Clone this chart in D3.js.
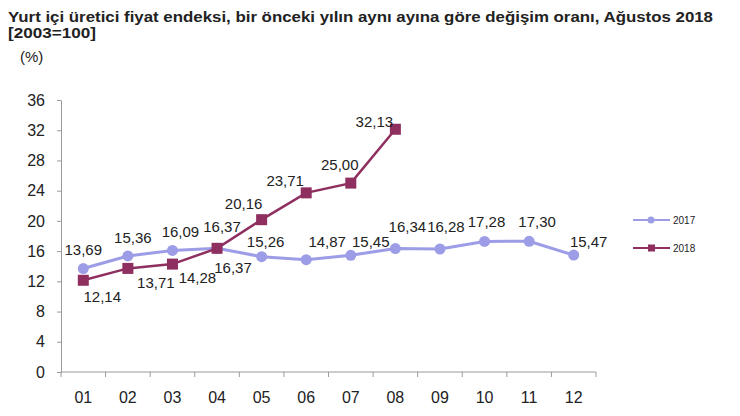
<!DOCTYPE html>
<html>
<head>
<meta charset="utf-8">
<script src="https://cdn.jsdelivr.net/npm/d3@7"></script>
<style>
  body { margin: 0; background: #fff; }
  svg { font-family: "Liberation Sans", Arial, sans-serif; }
  .axis path, .axis line { stroke: #9a9a9a; }
  .axis text { font-size: 16px; fill: #222; }
</style>
</head>
<body>
<svg id="chart" width="740" height="416"></svg>
<script>
var months = ["01", "02", "03", "04", "05", "06", "07", "08", "09", "10", "11", "12"]
var values2017 = [13.69, 15.36, 16.09, 16.37, 15.26, 14.87, 15.45, 16.34, 16.28, 17.28, 17.30, 15.47]
var values2018 = [12.14, 13.71, 14.28, 16.37, 20.16, 23.71, 25.00, 32.13]
var yTicks = [0, 4, 8, 12, 16, 20, 24, 28, 32, 36]

// label placement relative to each point (dx, dy of baseline)
var labelPos2017 = [[0, -14], [5, -13], [8, -13], [5, -16], [4, -10], [21, -13], [20, -8], [12, -17], [6, -17], [2, -14], [8, -14], [15, -8]]
var labelPos2018 = [[19, 22], [28, 20], [25, 19], [16, 25], [-18, -11], [-21, -7], [-11, -13], [-21, -2]]

var svg = d3.select("#chart")
var fmt = function(v) { return v.toFixed(2).replace(".", ",") }

// Title (the original is a bit wider than plain 15px bold)
svg.append("text").attr("x", 8).attr("y", 22)
    .style("font-weight", "bold").style("font-size", "15px").attr("fill", "#222")
    .attr("textLength", 705).attr("lengthAdjust", "spacingAndGlyphs")
    .text("Yurt içi üretici fiyat endeksi, bir önceki yılın aynı ayına göre değişim oranı, Ağustos 2018")
svg.append("text").attr("x", 8).attr("y", 38)
    .style("font-weight", "bold").style("font-size", "15px").attr("fill", "#222")
    .attr("textLength", 88).attr("lengthAdjust", "spacingAndGlyphs")
    .text("[2003=100]")
svg.append("text").attr("x", 20).attr("y", 62)
    .style("font-size", "15px").attr("fill", "#222")
    .text("(%)")

var margin = {left: 61, top: 100}
var width = 535, height = 272

var g = svg.append("g").attr("transform", "translate(" + margin.left + "," + margin.top + ")")

var x = d3.scaleBand().domain(months).range([0, width])
var y = d3.scaleLinear().domain([0, 36]).range([height, 0])
var cx = function(d, i) { return x(months[i]) + x.bandwidth() / 2 }

// Y axis
g.append("g")
    .attr("class", "axis axis--y")
    .call(d3.axisLeft(y).tickValues(yTicks).tickSize(4).tickSizeOuter(0).tickPadding(12))

// X axis, ticks at category boundaries
var xAxis = g.append("g")
    .attr("class", "axis axis--x")
    .attr("transform", "translate(0," + height + ")")
xAxis.append("line").attr("x1", 0).attr("x2", width).attr("stroke", "#9a9a9a")
xAxis.selectAll("line.tick")
    .data(d3.range(months.length + 1))
    .join("line")
    .attr("class", "tick")
    .attr("x1", function(i) { return i * x.step() })
    .attr("x2", function(i) { return i * x.step() })
    .attr("y1", 0).attr("y2", 5)
xAxis.selectAll("text")
    .data(months)
    .join("text")
    .attr("x", function(d) { return x(d) + x.bandwidth() / 2 })
    .attr("y", 31)
    .style("text-anchor", "middle")
    .text(function(d) { return d })

var line = d3.line()
    .x(cx)
    .y(function(d) { return y(d) })

var c2017 = "#9c9de6", c2018 = "#8e2f5f"

g.append("path").datum(values2017)
    .attr("fill", "none").attr("stroke", c2017).attr("stroke-width", 3)
    .attr("d", line)
g.selectAll("circle.p2017")
    .data(values2017)
    .join("circle")
    .attr("class", "p2017")
    .attr("cx", cx).attr("cy", function(d) { return y(d) })
    .attr("r", 5.5).attr("fill", c2017)

g.append("path").datum(values2018)
    .attr("fill", "none").attr("stroke", c2018).attr("stroke-width", 2.5)
    .attr("d", line)
g.selectAll("rect.p2018")
    .data(values2018)
    .join("rect")
    .attr("class", "p2018")
    .attr("x", function(d, i) { return cx(d, i) - 5.5 })
    .attr("y", function(d) { return y(d) - 5.5 })
    .attr("width", 11).attr("height", 11)
    .attr("fill", c2018)

// Data labels
function labels(values, pos) {
    g.append("g")
        .selectAll("text")
        .data(values)
        .join("text")
        .attr("x", function(d, i) { return cx(d, i) + pos[i][0] })
        .attr("y", function(d, i) { return y(d) + pos[i][1] })
        .style("text-anchor", "middle")
        .style("font-size", "15px")
        .attr("fill", "#222")
        .text(fmt)
}
labels(values2017, labelPos2017)
labels(values2018, labelPos2018)

// Legend
var legend = svg.append("g").attr("transform", "translate(633,0)")
var series = [{name: "2017", color: c2017, shape: "circle", y: 220}, {name: "2018", color: c2018, shape: "square", y: 248}]
series.forEach(function(s) {
    legend.append("line")
        .attr("x1", 0).attr("x2", 37).attr("y1", s.y).attr("y2", s.y)
        .attr("stroke", s.color).attr("stroke-width", 2)
    if (s.shape === "circle")
        legend.append("circle").attr("cx", 18).attr("cy", s.y).attr("r", 3.5).attr("fill", s.color)
    else
        legend.append("rect").attr("x", 15).attr("y", s.y - 3.5).attr("width", 7).attr("height", 7).attr("fill", s.color)
    legend.append("text")
        .attr("x", 40).attr("y", s.y + 4)
        .style("font-size", "10px").attr("fill", "#222")
        .text(s.name)
})
</script>
</body>
</html>
